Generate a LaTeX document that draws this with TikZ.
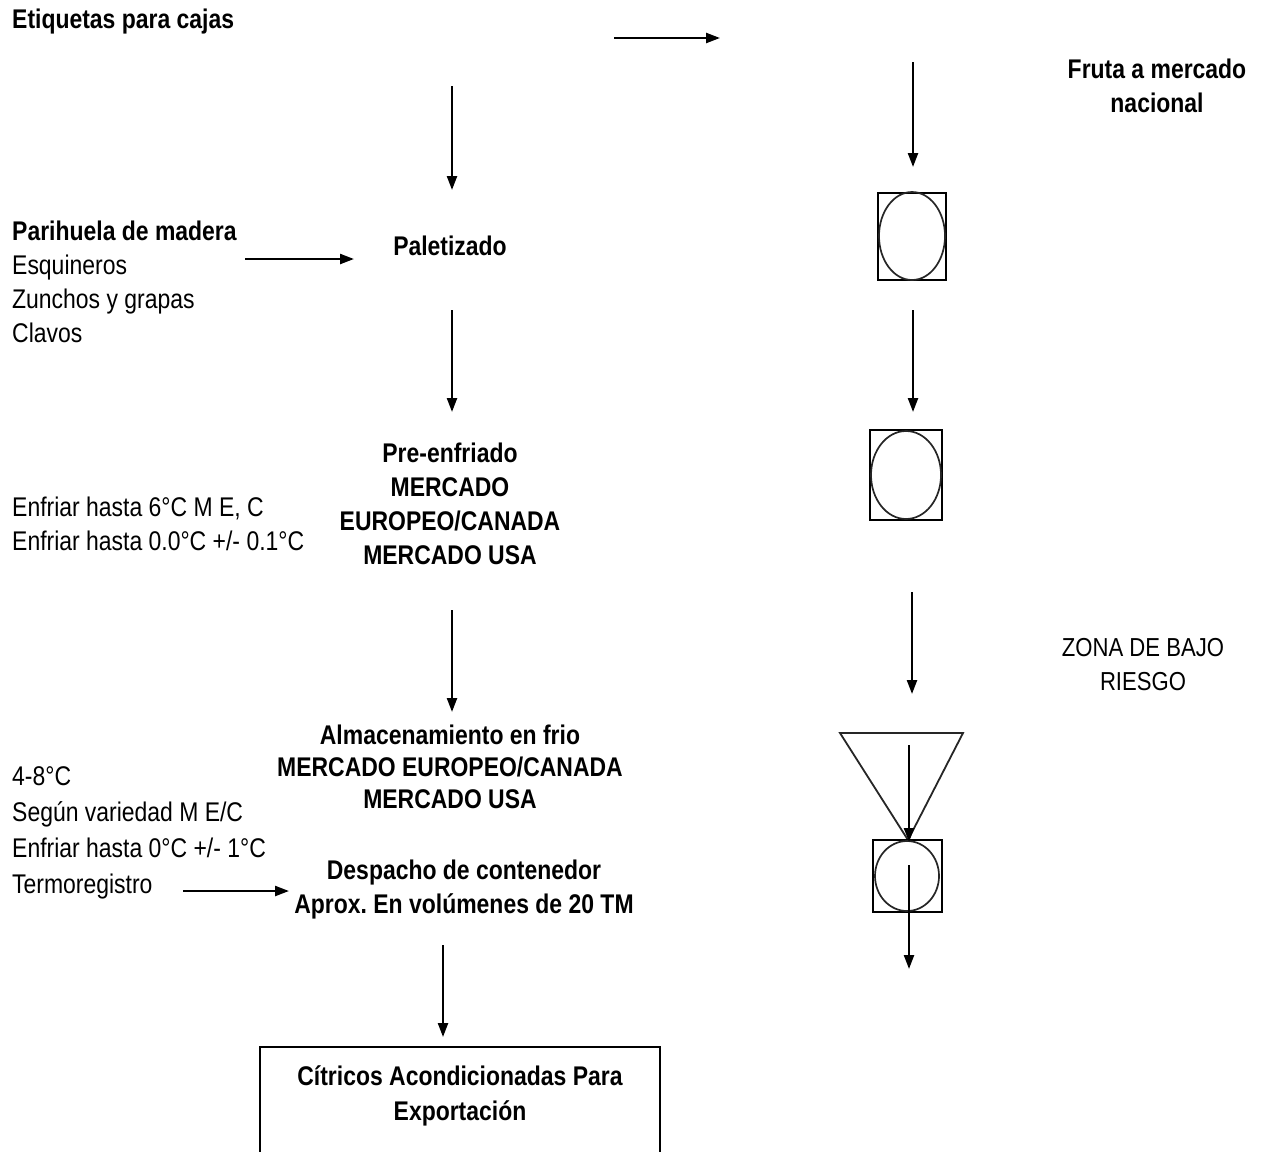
\documentclass[tikz,border=0pt]{standalone}
\usepackage{fontspec}
\setmainfont{Liberation Sans}[FakeStretch=0.85]
\usetikzlibrary{arrows.meta}
\frenchspacing
\tikzset{
  arr/.style={line width=2.3pt,-{Triangle[length=14pt,width=10pt]}},
  txt/.style={inner sep=0pt,font=\fontsize{27}{34}\selectfont},
  lbl/.style={txt,anchor=west,align=left},
  ctr/.style={txt,align=center,font=\fontsize{27}{34}\selectfont\bfseries},
  boxsq/.style={line width=2.2pt},
  oval/.style={line width=1.7pt,black!85},
}
\begin{document}
\begin{tikzpicture}[x=1pt,y=-1pt]
\useasboundingbox (0,0) rectangle (1265,1151);
% left column texts
\node[lbl,font=\fontsize{27}{34}\selectfont\bfseries] (etiq) at (12,22) {Etiquetas para cajas};
\node[lbl] (pari) at (12,282) {\textbf{Parihuela de madera}\\Esquineros\\Zunchos y grapas\\Clavos};
\node[lbl] (enfr) at (12,524) {Enfriar hasta 6°C M E, C\\Enfriar hasta 0.0°C +/- 0.1°C};
\node[lbl,font=\fontsize{27}{36}\selectfont] (temp) at (12,833) {4-8°C\\Según variedad M E/C\\Enfriar hasta 0°C +/- 1°C\\Termoregistro};
% centre column
\node[ctr] (pal) at (450,246) {Paletizado};
\node[ctr] (pre) at (450,504) {Pre-enfriado\\MERCADO\\EUROPEO/CANADA\\MERCADO USA};
\node[ctr,font=\fontsize{27}{32}\selectfont\bfseries] (alm) at (450,767) {Almacenamiento en frio\\MERCADO EUROPEO/CANADA\\MERCADO USA};
\node[ctr] (desp) at (464,890) {Despacho de contenedor\\Aprox. En volúmenes de 20 TM};
\draw[line width=2.2pt] (260,1170) -- (260,1047) -- (660,1047) -- (660,1170);
\node[ctr,font=\fontsize{27}{35}\selectfont\bfseries] (cit) at (460,1096) {Cítricos Acondicionadas Para\\Exportación};
% right column
\node[ctr] (fruta) at (1157,86) {Fruta a mercado\\nacional};
\node[txt,align=center,font=\fontsize{26}{34}\selectfont] (zona) at (1143,665) {ZONA DE BAJO\\RIESGO};
% symbols
\draw[boxsq] (878,193) rectangle (946,280);
\draw[oval] (912,236) ellipse [x radius=33, y radius=44];
\draw[boxsq] (870,430) rectangle (942,520);
\draw[oval] (906,475) ellipse [x radius=35, y radius=44];
\draw[line width=1.8pt,black!85] (840,733) -- (963,733) -- (908,840) -- cycle;
\draw[boxsq] (873,840) rectangle (942,912);
\draw[oval] (907,876) ellipse [x radius=32, y radius=35];
% arrow end points
\coordinate (a1s) at (614,38);  \coordinate (a1e) at (720,38);
\coordinate (a2s) at (452,86);  \coordinate (a2e) at (452,190);
\coordinate (a3s) at (245,259); \coordinate (a3e) at (354,259);
\coordinate (a4s) at (452,310); \coordinate (a4e) at (452,412);
\coordinate (a5s) at (452,610); \coordinate (a5e) at (452,712);
\coordinate (a6s) at (183,891); \coordinate (a6e) at (289,891);
\coordinate (a7s) at (443,945); \coordinate (a7e) at (443,1037);
\coordinate (b1s) at (913,62);  \coordinate (b1e) at (913,167);
\coordinate (b2s) at (913,310); \coordinate (b2e) at (913,412);
\coordinate (b3s) at (912,592); \coordinate (b3e) at (912,694);
\coordinate (b4s) at (909,745); \coordinate (b4e) at (909,842);
\coordinate (b5s) at (909,865); \coordinate (b5e) at (909,969);
\foreach \s/\e in {a1s/a1e,a2s/a2e,a3s/a3e,a4s/a4e,a5s/a5e,a6s/a6e,a7s/a7e,b1s/b1e,b2s/b2e,b3s/b3e,b4s/b4e,b5s/b5e}
  \draw[arr] (\s) -- (\e);
\end{tikzpicture}
\end{document}
